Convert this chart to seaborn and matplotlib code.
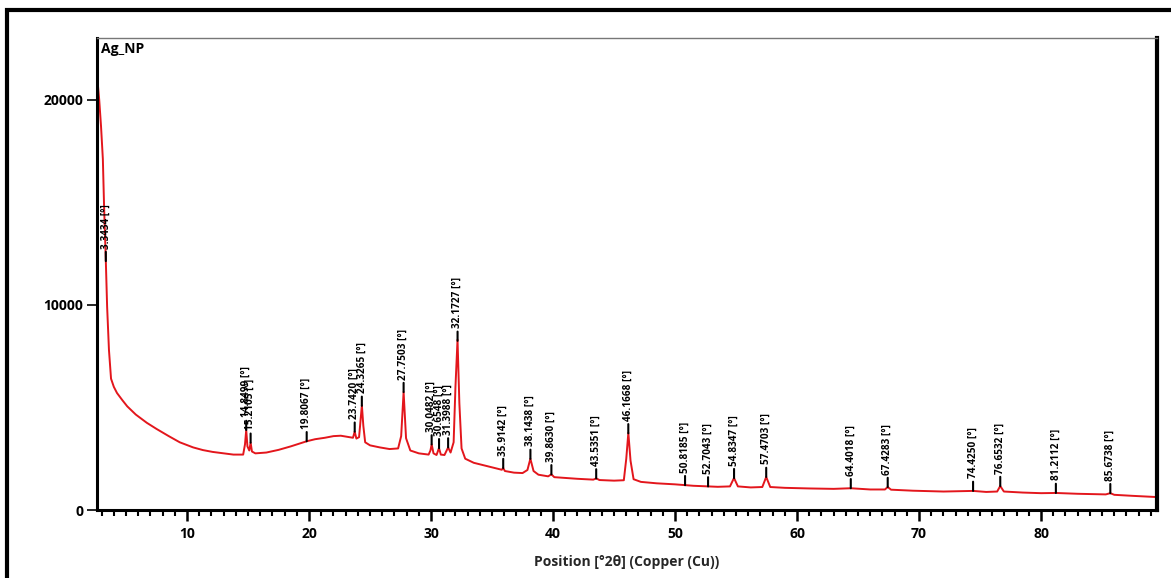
import numpy as np
import pandas as pd
import matplotlib
matplotlib.use("Agg")
import matplotlib.pyplot as plt
from matplotlib.patches import Rectangle
from matplotlib.ticker import MultipleLocator
import seaborn as sns

# ---- data (2theta in degrees, intensity in counts) ----
two_theta = [2.62, 2.8, 2.95, 3.1, 3.2, 3.34, 3.45, 3.6, 3.77, 4.0, 4.26, 4.7, 5.1, 5.8, 6.7,
             7.5, 8.5, 9.4, 10.5, 11.3, 12.1, 13.0, 13.8, 14.6, 14.75, 14.85, 14.95, 15.1,
             15.21, 15.32, 15.6, 16.5, 17.5, 18.5, 19.3, 19.81, 20.5, 21.3, 22.0, 22.6, 23.2,
             23.6, 23.74, 23.88, 24.1, 24.2, 24.33, 24.45, 24.6, 25.0, 25.8, 26.6, 27.3,
             27.55, 27.75, 27.95, 28.3, 29.0, 29.8, 29.95, 30.05, 30.2, 30.45, 30.65, 30.8,
             31.1, 31.4, 31.6, 31.85, 32.0, 32.17, 32.32, 32.5, 32.8, 33.5, 34.5, 35.5, 35.8,
             35.91, 36.05, 36.8, 37.5, 37.9, 38.14, 38.4, 38.8, 39.6, 39.86, 40.1, 41.0, 42.0,
             43.3, 43.54, 43.8, 45.0, 45.8, 46.0, 46.17, 46.35, 46.6, 47.2, 48.5, 50.0, 50.82,
             51.5, 52.70, 53.5, 54.5, 54.83, 55.15, 56.2, 57.15, 57.47, 57.8, 59.0, 61.0, 63.0,
             64.40, 66.0, 67.2, 67.43, 67.7, 69.5, 72.0, 74.43, 75.5, 76.4, 76.65, 76.95, 78.5,
             80.0, 81.21, 83.0, 85.3, 85.67, 86.0, 87.5, 89.5]
counts = [21200, 20000, 18700, 17100, 14800, 12200, 9900, 7800, 6400, 6000, 5700, 5350, 5050,
          4650, 4250, 3950, 3600, 3300, 3050, 2920, 2830, 2760, 2700, 2700, 3200, 3900, 3100,
          2900, 3280, 2850, 2760, 2800, 2930, 3100, 3250, 3350, 3450, 3520, 3600, 3620, 3560,
          3520, 3820, 3480, 3550, 4200, 5100, 4100, 3300, 3150, 3050, 2970, 3000, 3600, 5750,
          3500, 2900, 2760, 2700, 2900, 3200, 2760, 2680, 3020, 2700, 2680, 3050, 2800, 3300,
          6000, 8300, 5200, 3000, 2500, 2300, 2150, 2000, 1960, 2050, 1900, 1820, 1800, 1950,
          2500, 1900, 1720, 1640, 1740, 1600, 1560, 1520, 1480, 1540, 1460, 1430, 1450, 2500,
          3760, 2400, 1500, 1370, 1300, 1250, 1210, 1180, 1150, 1130, 1150, 1560, 1150, 1100,
          1120, 1610, 1120, 1080, 1050, 1030, 1060, 1000, 1000, 1120, 990, 940, 900, 930, 880,
          900, 1170, 900, 850, 820, 830, 790, 760, 820, 740, 690, 630]

peak_positions = [3.3434, 14.8499, 15.2105, 19.8067, 23.7420, 24.3265, 27.7503, 30.0482,
                  30.6548, 31.3988, 32.1727, 35.9142, 38.1438, 39.8630, 43.5351, 46.1668,
                  50.8185, 52.7043, 54.8347, 57.4703, 64.4018, 67.4283, 74.4250, 76.6532,
                  81.2112, 85.6738]
peak_labels = [f"{p:.4f} [°]" for p in peak_positions]

sample_name = "Ag_NP"
x_label = "Position [°2θ] (Copper (Cu))"
x_ticks = [10, 20, 30, 40, 50, 60, 70, 80]
y_ticks = [0, 10000, 20000]

df = pd.DataFrame({"two_theta": two_theta, "counts": counts})

# ---- figure ----
sns.set_theme(style="white")
plt.rcParams["font.family"] = ["Open Sans", "DejaVu Sans"]

W, H = 1171, 578
fig = plt.figure(figsize=(W / 100, H / 100), dpi=100)
ax = fig.add_axes([97 / W, (H - 510) / H, (1157 - 97) / W, (510 - 38) / H])

sns.lineplot(data=df, x="two_theta", y="counts", ax=ax, color="#e3161c",
             linewidth=1.4, estimator=None, sort=False)

ax.set_xlim(2.62, 89.5)
ax.set_ylim(0, 23000)
ax.set_xticks(x_ticks)
ax.set_yticks(y_ticks)
ax.xaxis.set_minor_locator(MultipleLocator(1))
ax.tick_params(axis="x", which="major", direction="out", length=8, width=1.8,
               bottom=True, labelsize=10, pad=4, colors="black")
ax.tick_params(axis="x", which="minor", direction="out", length=4, width=1.5,
               bottom=True, colors="black")
ax.tick_params(axis="y", which="major", direction="out", length=7, width=1.2,
               left=True, labelsize=10, pad=3, colors="black")
for lab in ax.get_xticklabels() + ax.get_yticklabels():
    lab.set_fontweight("bold")

ax.set_xlabel(x_label, fontsize=10, fontweight="bold", labelpad=10)
ax.set_ylabel("")

for side, lw, col in [("left", 2.2, "black"), ("bottom", 2.2, "black"),
                      ("right", 3.0, "black"), ("top", 1.0, "#777777")]:
    ax.spines[side].set_visible(True)
    ax.spines[side].set_linewidth(lw)
    ax.spines[side].set_color(col)

ax.text(0.004, 0.992, sample_name, transform=ax.transAxes, ha="left", va="top",
        fontsize=10, fontweight="bold", color="black")

# peak markers + labels
label_y = np.interp(peak_positions, two_theta, counts)
for px, py, lab in zip(peak_positions, label_y, peak_labels):
    ax.annotate(lab, xy=(px, py), xytext=(0, 9), textcoords="offset points",
                rotation=90, ha="center", va="bottom", fontsize=7.2,
                fontweight="bold", color="black",
                arrowprops=dict(arrowstyle="-", lw=1.5, color="black",
                                shrinkA=0, shrinkB=0))

# outer frame
fig.patches.append(Rectangle((7 / W, -0.2), 1.2, 0.2 + (H - 10) / H,
                             transform=fig.transFigure, fill=False,
                             edgecolor="black", linewidth=3))

fig.savefig("out.png", dpi=100)
